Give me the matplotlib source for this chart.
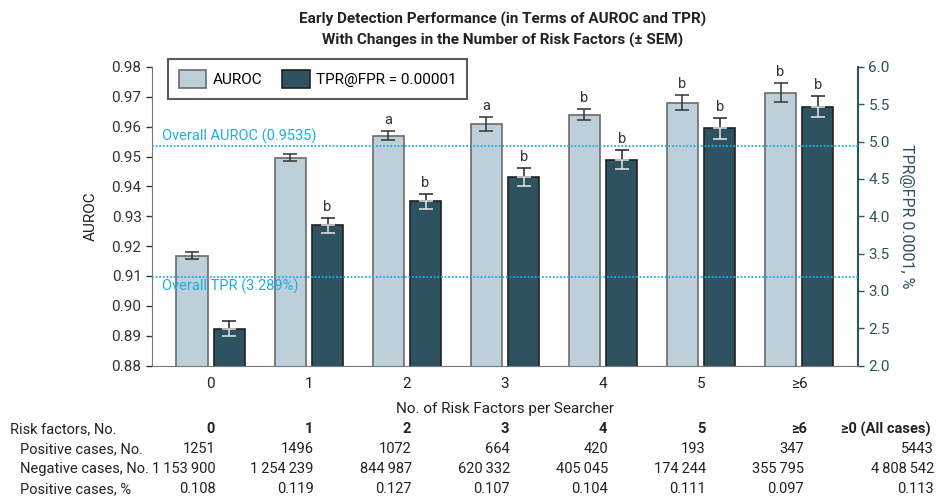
import numpy as np
import matplotlib.pyplot as plt
from matplotlib.patches import Patch
from matplotlib import transforms

plt.rcParams['font.family'] = ['Roboto', 'DejaVu Sans']

groups = ["0", "1", "2", "3", "4", "5", "≥6"]
auroc = [0.9168, 0.9496, 0.9570, 0.9608, 0.9640, 0.9680, 0.9714]
auroc_sem = [0.0012, 0.0011, 0.0016, 0.0024, 0.0018, 0.0025, 0.0032]
tpr = [2.49, 3.88, 4.20, 4.52, 4.76, 5.18, 5.47]
tpr_sem = [0.10, 0.10, 0.10, 0.12, 0.13, 0.14, 0.14]
auroc_marks = ["", "", "a", "a", "b", "b", "b"]
tpr_marks = ["", "b", "b", "b", "b", "b", "b"]
overall_auroc = 0.9535
overall_tpr_line = 0.9098   # where the line sits on the AUROC scale

table_cols = ["0", "1", "2", "3", "4", "5", "≥6", "≥0 (All cases)"]
pos_cases = ["1251", "1496", "1072", "664", "420", "193", "347", "5443"]
neg_cases = ["1\u2009153\u2009900", "1\u2009254\u2009239", "844\u2009987", "620\u2009332",
             "405\u2009045", "174\u2009244", "355\u2009795", "4\u2009808\u2009542"]
pos_pct = ["0.108", "0.119", "0.127", "0.107", "0.104", "0.111", "0.097", "0.113"]

light = "#bdd0d9"
dark = "#2e5260"
cyan = "#1ab0e6"
txt = "#222222"
fs = 10.5

fig = plt.figure(figsize=(9.37, 5.0), dpi=100)
ax = fig.add_axes([0.1622, 0.269, 0.7535, 0.597])
ax2 = ax.twinx()
ax.set_zorder(ax2.get_zorder() + 1)
ax.patch.set_visible(False)

x = np.arange(len(groups))
w = 0.32
off = 0.19

ax.bar(x - off, auroc, w, color=light, edgecolor="#6b6b6b", linewidth=1.2, zorder=2)
ax2.bar(x + off, tpr, w, color=dark, edgecolor="#222222", linewidth=1.2, zorder=2)

# error bars: upper half dark, lower half (inside bar) light on the dark bars
zeros = np.zeros(len(x))
ax.errorbar(x - off, auroc, yerr=auroc_sem, fmt="none", ecolor="#333333",
            elinewidth=1.1, capsize=5, capthick=1.1, zorder=4)
ax2.errorbar(x + off, tpr, yerr=[zeros, tpr_sem], fmt="none", ecolor="#222222",
             elinewidth=1.1, capsize=5, capthick=1.1, zorder=4)
ax2.errorbar(x + off, tpr, yerr=[tpr_sem, zeros], fmt="none", ecolor="#e8e8e8",
             elinewidth=1.1, capsize=5, capthick=1.1, zorder=4)

for i in range(len(x)):
    if auroc_marks[i]:
        ax.annotate(auroc_marks[i], (x[i] - off, auroc[i] + auroc_sem[i]),
                    xytext=(0, 3), textcoords="offset points", ha="center",
                    va="bottom", fontsize=10.5, color="#333333")
    if tpr_marks[i]:
        ax2.annotate(tpr_marks[i], (x[i] + off, tpr[i] + tpr_sem[i]),
                     xytext=(0, 3), textcoords="offset points", ha="center",
                     va="bottom", fontsize=10.5, color="#333333")

ax.axhline(overall_auroc, color=cyan, linestyle=(0, (1, 1)), linewidth=1.3, zorder=5)
ax.axhline(overall_tpr_line, color=cyan, linestyle=(0, (1, 1)), linewidth=1.3, zorder=5)
ax.text(-0.5, overall_auroc + 0.0008, "Overall AUROC (0.9535)", color=cyan,
        fontsize=10.5, va="bottom", ha="left")
ax.text(-0.5, overall_tpr_line - 0.0008, "Overall TPR (3.289%)", color=cyan,
        fontsize=10.5, va="top", ha="left")

ax.set_xlim(-0.6, 6.6)
ax.set_ylim(0.88, 0.98)
ax.set_yticks(np.arange(0.88, 0.9801, 0.01))
ax.set_yticklabels([f"{v:.2f}" for v in np.arange(0.88, 0.9801, 0.01)])
ax2.set_ylim(2.0, 6.0)
ax2.set_yticks(np.arange(2.0, 6.01, 0.5))
ax2.set_yticklabels([f"{v:.1f}" for v in np.arange(2.0, 6.01, 0.5)])

ax.set_xticks(x)
ax.set_xticklabels(groups)
ax.tick_params(axis="x", length=0, pad=8, labelsize=11, colors=txt)
ax.tick_params(axis="y", labelsize=11, colors="#333333", length=4, width=1)
ax2.tick_params(axis="y", labelsize=11, colors=dark, length=4, width=1)

for a in (ax, ax2):
    a.spines["top"].set_visible(False)
ax.spines["left"].set_color("#777777")
ax.spines["bottom"].set_color("#777777")
ax.spines["right"].set_visible(False)
ax2.spines["left"].set_visible(False)
ax2.spines["bottom"].set_visible(False)
ax2.spines["right"].set_color(dark)
ax2.spines["right"].set_linewidth(1.5)

ax.set_ylabel("AUROC", fontsize=11, color=txt, labelpad=10)
ax2.set_ylabel("TPR@FPR 0.0001, %", fontsize=11.5, color=dark, rotation=270,
               labelpad=17)
ax.set_xlabel("No. of Risk Factors per Searcher", fontsize=11, color=txt,
              labelpad=8)

handles = [Patch(facecolor=light, edgecolor="#6b6b6b", linewidth=1.2),
           Patch(facecolor=dark, edgecolor="#222222", linewidth=1.2)]
leg = ax.legend(handles, ["AUROC", "TPR@FPR = 0.00001"], loc="upper left",
                bbox_to_anchor=(0.023, 1.027), borderaxespad=0, ncol=2,
                frameon=True, fancybox=False, fontsize=11, handlelength=1.8,
                handleheight=1.5, columnspacing=1.3, borderpad=0.7,
                handletextpad=0.4)
leg.get_frame().set_edgecolor("#333333")
leg.get_frame().set_linewidth(1.5)

fig.text(0.536, 0.962, "Early Detection Performance (in Terms of AUROC and TPR)",
         ha="center", va="center", fontsize=11, fontweight="bold", color=txt)
fig.text(0.536, 0.919, "With Changes in the Number of Risk Factors (± SEM)",
         ha="center", va="center", fontsize=11, fontweight="bold", color=txt)

# table below the chart
trans = transforms.blended_transform_factory(ax.transData, fig.transFigure)
row_y = [1 - 429 / 500, 1 - 449 / 500, 1 - 469 / 500, 1 - 489 / 500]
fig.text(10 / 937, row_y[0], "Risk factors, No.", fontsize=fs, va="center",
         ha="left", color=txt)
fig.text(20 / 937, row_y[1], "Positive cases, No.", fontsize=fs, va="center",
         ha="left", color=txt)
fig.text(20 / 937, row_y[2], "Negative cases, No.", fontsize=fs, va="center",
         ha="left", color=txt)
fig.text(20 / 937, row_y[3], "Positive cases, %", fontsize=fs, va="center",
         ha="left", color=txt)
for i, col in enumerate(table_cols):
    if i < len(groups):
        cx = x[i]
        fig.text(cx, row_y[0], col, transform=trans, fontsize=fs, va="center",
                 ha="center", fontweight="bold", color=txt)
        rx = cx + 0.05
        for r, vals in enumerate([pos_cases, neg_cases, pos_pct]):
            fig.text(rx, row_y[r + 1], vals[i], transform=trans, fontsize=fs,
                     va="center", ha="right", color=txt)
    else:
        fig.text(886 / 937, row_y[0], col, fontsize=fs, va="center",
                 ha="center", fontweight="bold", color=txt)
        for r, vals in enumerate([pos_cases, neg_cases, pos_pct]):
            fig.text(934 / 937, row_y[r + 1], vals[i], fontsize=fs,
                     va="center", ha="right", color=txt)

fig.savefig("out.png", dpi=100)
